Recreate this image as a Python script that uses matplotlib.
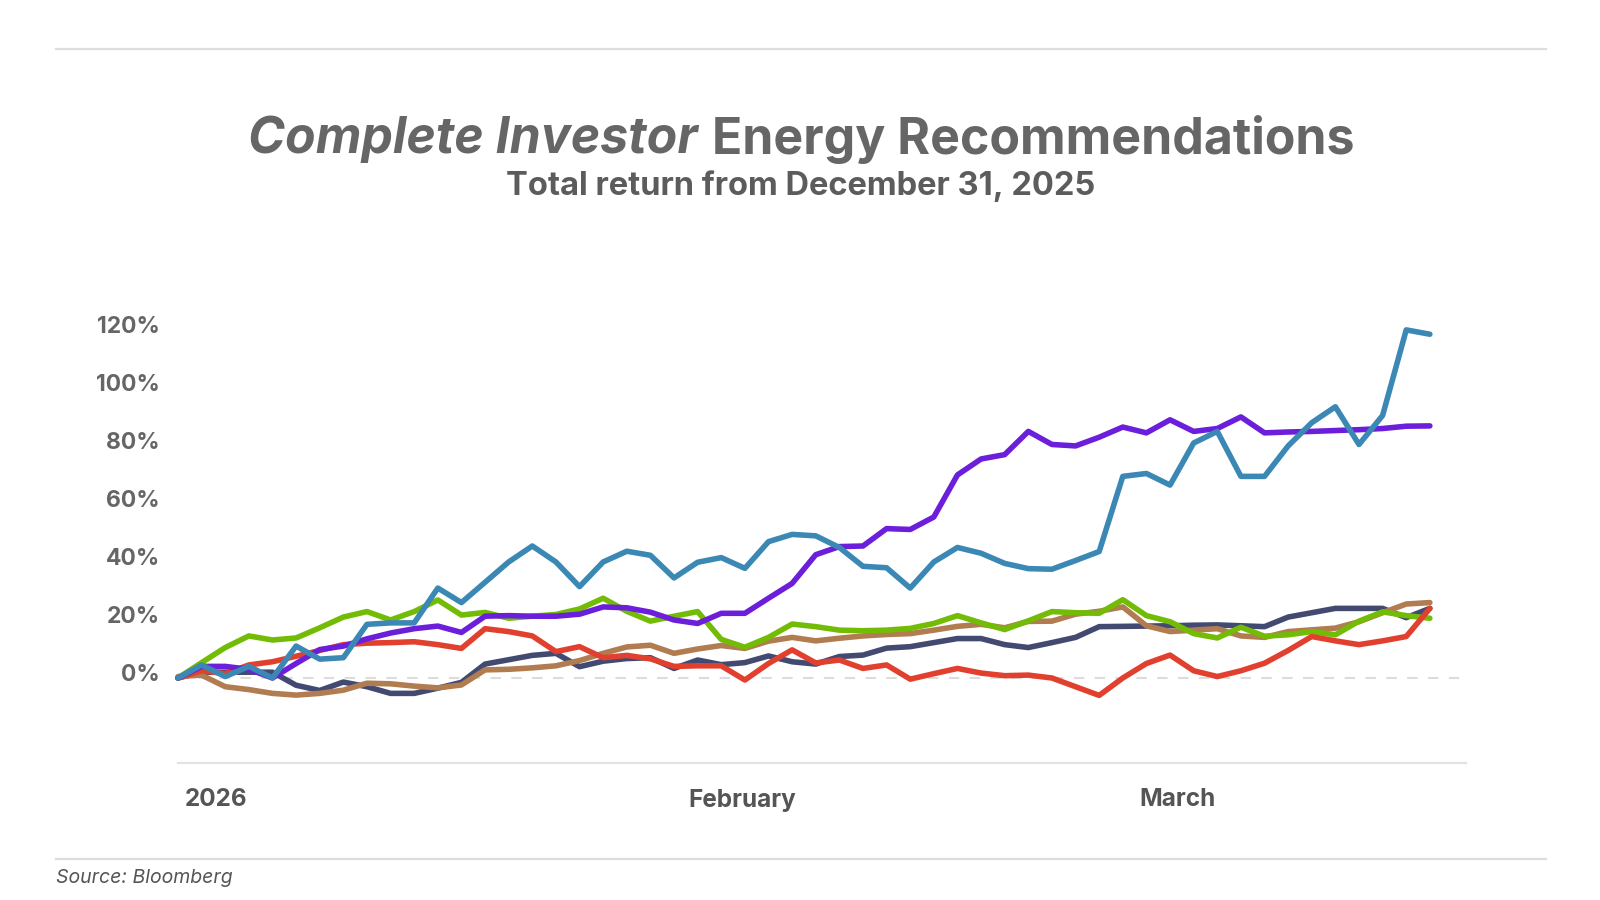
import matplotlib
matplotlib.use("Agg")
import matplotlib.pyplot as plt
from matplotlib.lines import Line2D
from matplotlib.transforms import offset_copy
import numpy as np

# total return (%) since Dec 31, 2025, one value per trading day
blue = [0, 4.5, 0.5, 4, 0, 11, 6.5, 7, 18.5, 19, 19, 31, 26, 33, 40, 45.5, 40, 31.5, 40, 43.7,
        42.3, 34.5, 39.9, 41.5, 37.8, 47, 49.5, 49, 45, 38.5, 38, 31, 40, 45, 43, 39.5, 37.7, 37.5, 40.5, 43.6,
        69.5, 70.5, 66.5, 81, 85, 69.5, 69.5, 80, 88, 93.5, 80.5, 90.5, 120, 118.5]
purple = [0, 4, 4, 3, 0, 5, 9.8, 11, 13.5, 15.5, 17, 17.9, 15.7, 21.3, 21.5, 21.3, 21.3, 22, 24.5, 24.2,
          22.7, 20, 18.8, 22.3, 22.3, 27.5, 32.6, 42.5, 45.3, 45.5, 51.5, 51.2, 55.5, 70, 75.5, 77, 85, 80.5, 80, 83,
          86.5, 84.5, 89, 85, 86, 90, 84.5, 84.8, 85, 85.3, 85.6, 86, 86.8, 86.9]
green = [0, 5.3, 10.5, 14.5, 13.1, 13.8, 17.3, 21, 22.9, 20, 22.9, 26.9, 21.7, 22.6, 20.6, 21.3, 21.9, 23.8, 27.5, 23,
         19.6, 21.3, 22.9, 13.3, 10.6, 14, 18.6, 17.7, 16.5, 16.3, 16.5, 17.1, 18.8, 21.5, 19, 16.7, 19.7, 22.9, 22.5, 22.3,
         27, 21.5, 19.4, 15.3, 13.8, 17.5, 14.4, 14.9, 16, 14.9, 19.6, 22.8, 21.5, 20.6]
red = [0, 2.5, 1.5, 4.5, 5.6, 7.5, 9.5, 11.5, 12, 12.2, 12.5, 11.5, 10.2, 17, 16, 14.5, 9.1, 10.8, 7, 7.8,
       6.6, 4, 4.2, 4.2, -0.7, 5, 9.7, 5.2, 6.2, 3.3, 4.5, -0.4, 1.5, 3.3, 1.7, 0.8, 1, 0, -3, -6,
       0, 5, 7.9, 2.5, 0.5, 2.5, 5.1, 9.5, 14.3, 12.8, 11.5, 12.8, 14.3, 24]
navy = [0, 2, 2, 2, 2, -2.5, -4.3, -1.4, -3, -5.3, -5.3, -3.5, -1.5, 4.8, 6.3, 7.8, 8.5, 3.9, 5.8, 6.7,
        7, 3.3, 6.2, 4.6, 5.3, 7.6, 5.6, 4.8, 7.4, 7.9, 10.3, 10.8, 12.2, 13.6, 13.6, 11.5, 10.5, 12.2, 14, 17.7,
        17.8, 17.9, 18, 18.2, 18.3, 18, 17.7, 21, 22.5, 24, 24, 24, 20.8, 24]
brown = [0.5, 1, -3, -4, -5.3, -5.9, -5.3, -4.2, -1.8, -2, -2.8, -3.4, -2.4, 2.8, 3, 3.5, 4.2, 6, 8.5, 10.7,
         11.3, 8.5, 10, 11.2, 10.2, 12.7, 14, 12.8, 13.7, 14.5, 15, 15.3, 16.5, 17.8, 18.5, 17.3, 19.5, 19.6, 22, 23,
         24.5, 18, 16, 16.5, 17, 14.5, 14, 16, 16.6, 17.2, 19.4, 22.5, 25.5, 26]

y_ticks = [0, 20, 40, 60, 80, 100, 120]
month_labels = ["2026", "February", "March"]
month_label_pos = [0.3, 21.6, 40.7]

plt.rcParams['font.family'] = ['Inter', 'DejaVu Sans']

fig = plt.figure(figsize=(16, 9), dpi=100)
W, H = 1600, 900
ax = fig.add_axes([178 / W, 137 / H, (1466 - 178) / W, (600 - 137) / H])

x = np.arange(len(blue))
series = [(navy, "#434a72"), (brown, "#b07c50"), (green, "#73bc06"),
          (red, "#e2402e"), (purple, "#6b1fdb"), (blue, "#3b88b5")]
for vals, col in series:
    ax.plot(x, vals, color=col, lw=4.0, solid_capstyle="round",
            solid_joinstyle="round", clip_on=False, zorder=3)

ax.axhline(0, color="#dcdcdc", lw=1.5, dashes=(5, 5), zorder=1)

ax.set_xlim(0, 54.53)
ax.set_ylim(-29.3, 130.3)
for s in ["top", "right", "left"]:
    ax.spines[s].set_visible(False)
ax.spines["bottom"].set_color("#e2e2e2")
ax.spines["bottom"].set_linewidth(1.6)
ax.set_xticks([])
ax.set_yticks([])

# y labels, sitting slightly above their value
ytr = offset_copy(ax.get_yaxis_transform(), fig=fig, x=-18, y=3, units="dots")
for v in y_ticks:
    ax.text(0, v, f"{v}%", transform=ytr, ha="right", va="center",
            fontsize=16.5, fontweight="bold", color="#666666")

xtr = offset_copy(ax.get_xaxis_transform(), fig=fig, x=0, y=-37, units="dots")
for lab, p in zip(month_labels, month_label_pos):
    ax.text(p, 0, lab, transform=xtr, ha="left", va="center",
            fontsize=17.5, fontweight="bold", color="#555555")

# rules
fig.add_artist(Line2D([56 / W, 1546 / W], [1 - 49 / H] * 2, transform=fig.transFigure,
                      color="#dddddd", lw=1.6))
fig.add_artist(Line2D([56 / W, 1546 / W], [1 - 859 / H] * 2, transform=fig.transFigure,
                      color="#dddddd", lw=1.6))

# title with italic part
r = fig.canvas.get_renderer()
ty = 1 - 139 / H
tsize = 36
t1 = fig.text(0, ty, "Complete Investor", fontsize=tsize, fontweight="bold",
              fontstyle="italic", color="#666666", va="center")
t2 = fig.text(0, ty, "Energy Recommendations", fontsize=tsize, fontweight="bold",
              color="#666666", va="center")
w1 = t1.get_window_extent(r).width
w2 = t2.get_window_extent(r).width
gap = tsize * 0.28 * 100 / 72
x0 = 801 - (w1 + gap + w2) / 2
t1.set_x(x0 / W)
t2.set_x((x0 + w1 + gap) / W)

fig.text(801 / W, 1 - 186 / H, "Total return from December 31, 2025", fontsize=23.5,
         fontweight="bold", color="#5c5c5c", ha="center", va="center")

fig.text(56 / W, 1 - 878 / H, "Source: Bloomberg", fontsize=14, fontstyle="italic",
         color="#555555", ha="left", va="center")

fig.savefig("out.png", dpi=100, facecolor="white")
